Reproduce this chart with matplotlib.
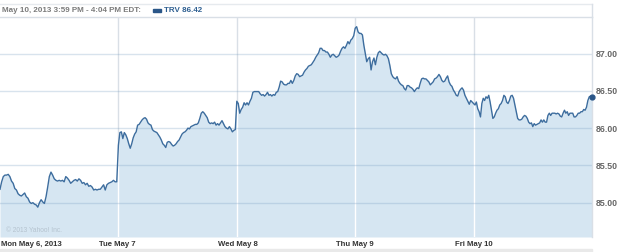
import numpy as np
import matplotlib.pyplot as plt
from matplotlib.lines import Line2D
from matplotlib.patches import Rectangle

plt.rcParams['font.family'] = ['Liberation Sans', 'DejaVu Sans']

# TRV price, 5 trading days
mon = [85.18, 85.28, 85.35, 85.37, 85.37, 85.38, 85.35, 85.29, 85.26, 85.19, 85.17, 85.12,
       85.10, 85.09, 85.11, 85.13, 85.08, 85.06, 85.01, 84.99, 85.00, 84.98, 84.97, 84.94,
       85.00, 85.04, 85.01, 84.99, 85.08, 85.21, 85.35, 85.41, 85.37, 85.32, 85.30, 85.29,
       85.30, 85.29, 85.30, 85.28, 85.35, 85.33, 85.30, 85.26, 85.28, 85.30, 85.31, 85.29,
       85.32, 85.30, 85.26, 85.27, 85.24, 85.26, 85.22, 85.23, 85.21, 85.17, 85.18, 85.17,
       85.18, 85.18, 85.21, 85.24, 85.17, 85.24, 85.26, 85.27, 85.28, 85.30, 85.28, 85.28]
tue = [85.77, 85.94, 85.95, 85.86, 85.94, 85.91, 85.86, 85.79, 85.73, 85.79, 85.87, 85.92,
       85.95, 86.04, 86.05, 86.08, 86.11, 86.13, 86.14, 86.12, 86.07, 86.05, 86.04, 85.98,
       85.96, 85.95, 85.94, 85.91, 85.88, 85.84, 85.79, 85.77, 85.74, 85.81, 85.82, 85.81,
       85.78, 85.76, 85.77, 85.79, 85.82, 85.84, 85.88, 85.92, 85.94, 85.95, 85.97, 86.00,
       85.99, 86.02, 86.03, 86.04, 86.05, 86.05, 86.07, 86.13, 86.20, 86.22, 86.20, 86.17,
       86.14, 86.08, 86.06, 86.07, 86.06, 86.08, 86.04, 86.06, 86.04, 86.07, 86.10, 86.06,
       86.02, 86.00, 85.99, 86.02, 85.99, 85.95, 85.97, 85.98]
wed = [86.36, 86.33, 86.20, 86.25, 86.28, 86.34, 86.31, 86.34, 86.31, 86.36, 86.40, 86.48,
       86.49, 86.49, 86.49, 86.49, 86.46, 86.44, 86.45, 86.43, 86.45, 86.48, 86.44, 86.45,
       86.43, 86.45, 86.44, 86.48, 86.49, 86.55, 86.63, 86.62, 86.59, 86.58, 86.58, 86.60,
       86.60, 86.64, 86.60, 86.64, 86.70, 86.73, 86.72, 86.69, 86.70, 86.71, 86.75, 86.78,
       86.80, 86.83, 86.84, 86.85, 86.88, 86.91, 86.95, 86.98, 87.01, 87.07, 87.07, 87.04,
       87.04, 87.02, 87.02, 86.99, 86.95, 86.98, 86.99, 86.97, 86.95, 86.96, 86.98, 87.03,
       87.07, 87.09, 87.07, 87.11, 87.16, 87.13, 87.18, 87.20, 87.24]
thu = [87.34, 87.36, 87.29, 87.27, 87.27, 87.25, 87.11, 87.00, 86.89, 86.93, 86.95, 86.78,
       86.89, 86.94, 86.85, 86.95, 87.01, 87.03, 87.01, 86.99, 86.98, 86.99, 86.97, 86.93,
       86.84, 86.73, 86.69, 86.67, 86.66, 86.69, 86.63, 86.60, 86.58, 86.57, 86.53, 86.51,
       86.57, 86.57, 86.55, 86.54, 86.52, 86.49, 86.52, 86.54, 86.53, 86.60, 86.66, 86.67,
       86.66, 86.66, 86.64, 86.62, 86.58, 86.60, 86.62, 86.66, 86.67, 86.69, 86.72, 86.69,
       86.64, 86.62, 86.63, 86.67, 86.70, 86.62, 86.58, 86.56, 86.51, 86.48, 86.44, 86.43,
       86.49, 86.52, 86.54, 86.51, 86.44, 86.40, 86.36, 86.32, 86.37, 86.35]
fri = [86.33, 86.31, 86.35, 86.26, 86.22, 86.15, 86.33, 86.40, 86.37, 86.42, 86.40, 86.44,
       86.35, 86.24, 86.13, 86.15, 86.20, 86.24, 86.26, 86.31, 86.33, 86.37, 86.44, 86.42,
       86.35, 86.33, 86.37, 86.43, 86.44, 86.40, 86.31, 86.22, 86.13, 86.11, 86.11, 86.12,
       86.15, 86.17, 86.16, 86.13, 86.08, 86.06, 86.07, 86.02, 86.06, 86.04, 86.05, 86.06,
       86.07, 86.11, 86.08, 86.11, 86.08, 86.08, 86.17, 86.20, 86.17, 86.20, 86.20, 86.20,
       86.19, 86.20, 86.19, 86.16, 86.15, 86.20, 86.24, 86.20, 86.22, 86.17, 86.20, 86.20,
       86.20, 86.15, 86.15, 86.17, 86.20, 86.20, 86.22, 86.22, 86.25, 86.24, 86.28, 86.37,
       86.42, 86.43, 86.42]
days = [mon, tue, wed, thu, fri]
day_labels = ['Mon May 6, 2013', 'Tue May 7', 'Wed May 8', 'Thu May 9', 'Fri May 10']
yticks = [85.00, 85.50, 86.00, 86.50, 87.00]

xs, ys = [], []
for d, vals in enumerate(days):
    n = len(vals)
    if d < len(days) - 1:
        xs.append(np.linspace(d, d + 1, n + 1)[:-1])
    else:
        xs.append(np.linspace(d, d + 1, n))
    ys.append(np.array(vals))
x = np.concatenate(xs)
y = np.concatenate(ys)

ymin, ymax = 84.54, 87.49
line_c = '#3d6d9e'
fill_c = '#d6e6f2'

fig = plt.figure(figsize=(6.25, 2.52), dpi=100)
ax = fig.add_axes([0, 1 - 237 / 252, 592 / 625, 220 / 252])
ax.set_xlim(0, 5)
ax.set_ylim(ymin, ymax)

# vertical day separators: grey above the area, white inside it
for d in range(1, 5):
    ax.axvline(d, color='#d9dfe6', lw=1, zorder=0)
poly = ax.fill_between(x, y, ymin, color=fill_c, lw=0, zorder=1)
clip = poly.get_paths()[0]
for d in range(1, 5):
    vl = ax.axvline(d, color='white', lw=1, zorder=2)
    vl.set_clip_path(clip, ax.transData)

for t in yticks:
    ax.axhline(t, color='#7fa3c4', alpha=0.3, lw=1, zorder=2)

ax.plot(x, y, color=line_c, lw=1, zorder=3)
ax.plot(x[-1], y[-1], 'o', color='#2a5688', ms=3.5, zorder=4, clip_on=False)

ax.yaxis.tick_right()
ax.set_yticks(yticks)
ax.set_yticklabels(['%.2f' % t for t in yticks], fontsize=6.3, fontweight='bold', color='#666666')
ax.tick_params(axis='y', length=0, pad=3)
ax.set_xticks([])
for s in ['left', 'bottom']:
    ax.spines[s].set_visible(False)
for s in ['top', 'right']:
    ax.spines[s].set_color('#d9dfe6')
    ax.spines[s].set_linewidth(1)

for d, lab in enumerate(day_labels):
    xpos = 0.005 if d == 0 else d - 0.16
    ax.text(xpos, -8 / 220, lab, transform=ax.get_xaxis_transform(), ha='left', va='center',
            fontsize=5.6, fontweight='bold', color='#333333')

ax.text(0.01, 0.012, '\u00a9 2013 Yahoo! Inc.', fontsize=4.8, color='#b5c3cf',
        transform=ax.transAxes, va='bottom')

# header
fig.text(2 / 625, 1 - 10 / 252, 'May 10, 2013 3:59 PM - 4:04 PM EDT:', fontsize=5.8,
         fontweight='bold', color='#7a7a7a', va='center')
fig.add_artist(Rectangle((153 / 625, 1 - 11.5 / 252), 8 / 625, 3 / 252, color='#2a5688',
                         transform=fig.transFigure))
fig.text(164 / 625, 1 - 10 / 252, 'TRV 86.42', fontsize=5.8, fontweight='bold',
         color='#2e5f91', va='center')
fig.add_artist(Line2D([0, 592 / 625], [1 - 4 / 252] * 2, color='#e6eaee', lw=1,
                      transform=fig.transFigure))
fig.add_artist(Line2D([592 / 625] * 2, [1 - 4 / 252, 1 - 17 / 252], color='#d9dfe6', lw=1,
                      transform=fig.transFigure))
fig.add_artist(Rectangle((0, 0), 592 / 625, 3 / 252, color='#e9e9e9', transform=fig.transFigure))

fig.savefig('out.png', dpi=100)
